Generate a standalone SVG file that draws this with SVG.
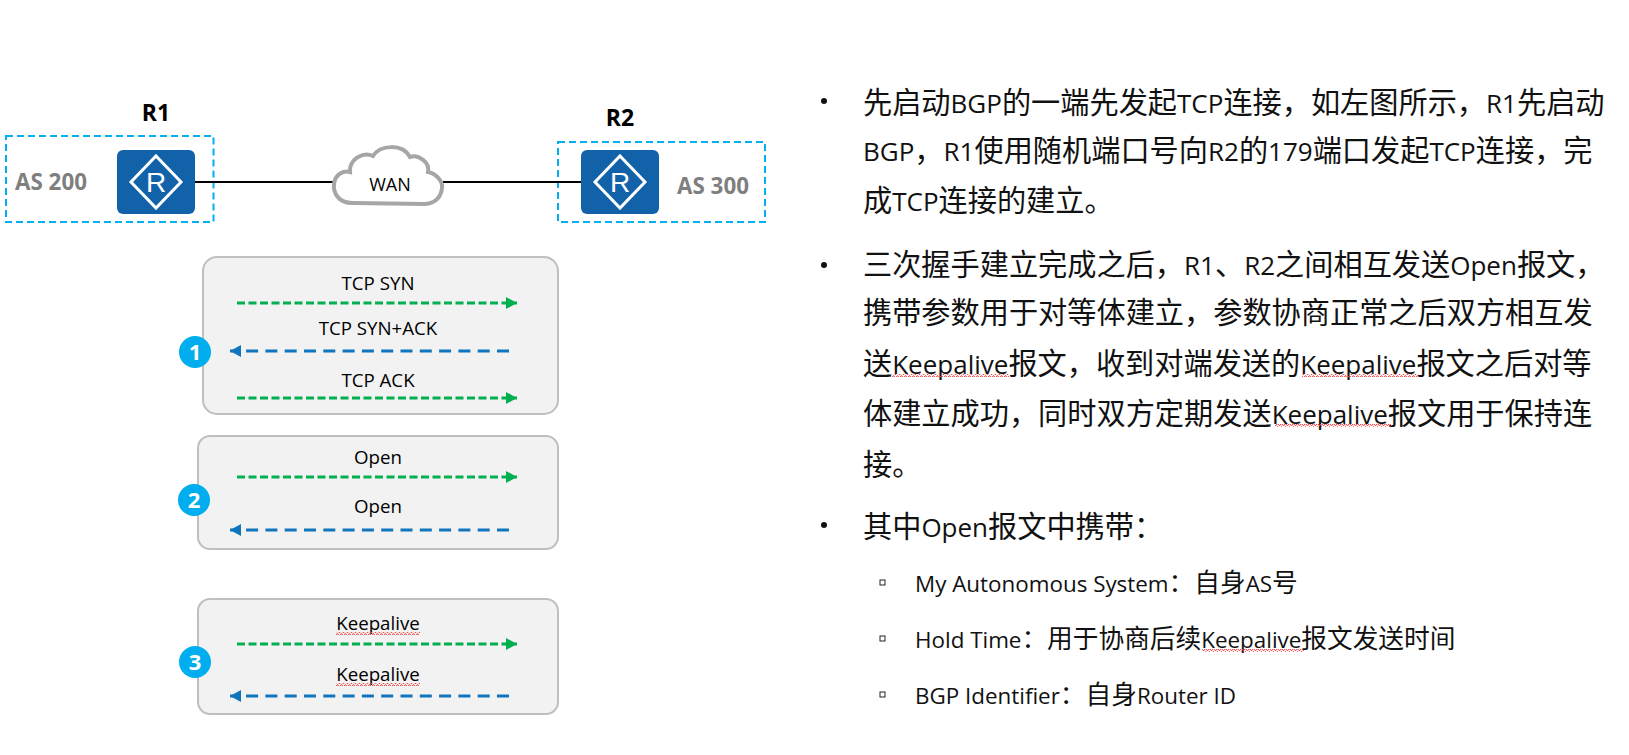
<svg xmlns="http://www.w3.org/2000/svg" xmlns:xlink="http://www.w3.org/1999/xlink" width="1629" height="755" viewBox="0 0 1629 755">
<style>
text{font-family:"Open Sans","Noto Sans CJK SC",sans-serif;fill:#000}
.body{font-size:29.2px;fill:#111}
.body .l{font-size:26px}
.sub{font-size:25.7px;fill:#111}
.sub .l{font-size:22.4px}
.msg{font-size:18.7px;text-anchor:middle}
.name{font-size:23px;font-weight:700;text-anchor:middle}
.as{font-size:22.4px;font-weight:700;fill:#7f7f7f}
.num{font-size:22px;font-weight:700;fill:#fff;text-anchor:middle}
.panel{fill:#f2f2f2;stroke:#bfbfbf;stroke-width:2}
.dash{fill:none;stroke:#00b0f0;stroke-width:2;stroke-dasharray:7 4}
.link{stroke:#000;stroke-width:2;fill:none}
.g{stroke:#00b050;stroke-width:2.8;stroke-dasharray:8 3.5;fill:none}
.b{stroke:#0f75bc;stroke-width:2.8;stroke-dasharray:12 7.3;fill:none}
.bullet{fill:none;stroke:#222;stroke-width:1}
.wavy{fill:url(#wave)}
</style>
<defs>
<pattern id="wave" width="4" height="3" patternUnits="userSpaceOnUse"><path d="M0 2.5L1 .8L2 .8L3 2.5L4 2.5" fill="none" stroke="#f04a4a" stroke-width="1"/></pattern>
<marker id="ag" markerUnits="userSpaceOnUse" markerWidth="12" markerHeight="12" refX="11" refY="6" orient="auto"><path d="M0 0L11 6L0 12z" fill="#00b050"/></marker>
<marker id="ab" markerUnits="userSpaceOnUse" markerWidth="12" markerHeight="12" refX="11" refY="6" orient="auto"><path d="M0 0L11 6L0 12z" fill="#0f75bc"/></marker>
<g id="router"><rect width="78" height="64" rx="6" fill="#1262aa"/><path d="M39 6L64 32L39 58L14 32z" fill="none" stroke="#fff" stroke-width="3"/><text x="39" y="42" text-anchor="middle" style="font-family:'Liberation Sans',sans-serif;font-size:28px;fill:#fff">R</text></g>
</defs>
<rect width="1629" height="755" fill="#fff"/>
<g id="as200"><rect class="dash" x="6" y="136" width="207.500" height="86"/><text class="as" x="15" y="190">AS 200</text></g>
<g id="as300"><rect class="dash" x="558" y="142" width="207" height="80"/><text class="as" x="677" y="194">AS 300</text></g>
<g id="step1"><rect class="panel" x="203" y="257" width="355" height="157" rx="14"/><text class="msg" x="378" y="290">TCP SYN</text><text class="msg" x="378" y="335">TCP SYN+ACK</text><text class="msg" x="378" y="387">TCP ACK</text><circle cx="195" cy="352" r="16" fill="#00aeef"/><text class="num" x="195" y="360">1</text></g>
<g id="step2"><rect class="panel" x="198" y="436" width="360" height="113" rx="12"/><text class="msg" x="378" y="464">Open</text><text class="msg" x="378" y="513">Open</text><circle cx="194" cy="500" r="16" fill="#00aeef"/><text class="num" x="194" y="508">2</text></g>
<g id="step3"><rect class="panel" x="198" y="599" width="360" height="115" rx="12"/><text class="msg" x="378" y="630">Keepalive</text><rect class="wavy" x="336" y="632" width="84" height="3"/><text class="msg" x="378" y="681">Keepalive</text><rect class="wavy" x="336" y="683" width="84" height="3"/><circle cx="195" cy="662" r="16" fill="#00aeef"/><text class="num" x="195" y="670">3</text></g>
<g id="connectors">
<path class="link" d="M195 182H334M443 182H581"/>
<path class="g" marker-end="url(#ag)" d="M237 303H517"/>
<path class="b" marker-end="url(#ab)" d="M509 351H230"/>
<path class="g" marker-end="url(#ag)" d="M237 398H517"/>
<path class="g" marker-end="url(#ag)" d="M237 477H517"/>
<path class="b" marker-end="url(#ab)" d="M509 530H230"/>
<path class="g" marker-end="url(#ag)" d="M237 644H517"/>
<path class="b" marker-end="url(#ab)" d="M509 696H230"/>
</g>
<g id="r1"><text class="name" x="156" y="121">R1</text><use xlink:href="#router" href="#router" x="117" y="150"/></g>
<g id="r2"><text class="name" x="620" y="126">R2</text><use xlink:href="#router" href="#router" x="581" y="150"/></g>
<g id="wan"><path d="M354 203C338 204 333 192 334 184C335 174 344 170 350 172C349 160 362 151 373 156C380 145 402 143 410 157C418 154 430 162 428 172C437 174 443 182 442 188C441 198 434 204 424 204Z" fill="#fff" stroke="#a6a6a6" stroke-width="4"/><text x="390" y="191" text-anchor="middle" style="font-size:18px">WAN</text></g>
<g id="notes">
<circle cx="824" cy="101" r="3" fill="#111"/>
<text class="body" x="863" y="113">先启动<tspan class="l">BGP</tspan>的一端先发起<tspan class="l">TCP</tspan>连接&#xFF0C;如左图所示&#xFF0C;<tspan class="l">R1</tspan>先启动</text>
<text class="body" x="863" y="161"><tspan class="l">BGP</tspan>&#xFF0C;<tspan class="l">R1</tspan>使用随机端口号向<tspan class="l">R2</tspan>的<tspan class="l">179</tspan>端口发起<tspan class="l">TCP</tspan>连接&#xFF0C;完</text>
<text class="body" x="863" y="211">成<tspan class="l">TCP</tspan>连接的建立。</text>
<circle cx="824" cy="265" r="3" fill="#111"/>
<text class="body" x="863" y="275">三次握手建立完成之后&#xFF0C;<tspan class="l">R1</tspan>、<tspan class="l">R2</tspan>之间相互发送<tspan class="l">Open</tspan>报文&#xFF0C;</text>
<text class="body" x="863" y="323">携带参数用于对等体建立&#xFF0C;参数协商正常之后双方相互发</text>
<text class="body" x="863" y="374">送<tspan class="l">Keepalive</tspan>报文&#xFF0C;收到对端发送的<tspan class="l">Keepalive</tspan>报文之后对等</text>
<rect class="wavy" x="892" y="374" width="117" height="3"/><rect class="wavy" x="1302" y="374" width="117" height="3"/>
<text class="body" x="863" y="424">体建立成功&#xFF0C;同时双方定期发送<tspan class="l">Keepalive</tspan>报文用于保持连</text>
<rect class="wavy" x="1275" y="424" width="117" height="3"/>
<text class="body" x="863" y="475">接。</text>
<circle cx="824" cy="525" r="3" fill="#111"/>
<text class="body" x="863" y="537">其中<tspan class="l">Open</tspan>报文中携带&#xFF1A;</text>
<rect class="bullet" x="880" y="580" width="5" height="5"/>
<text class="sub" x="915" y="592"><tspan class="l">My Autonomous System</tspan>&#xFF1A;自身<tspan class="l">AS</tspan>号</text>
<rect class="bullet" x="880" y="636" width="5" height="5"/>
<text class="sub" x="915" y="648"><tspan class="l">Hold Time</tspan>&#xFF1A;用于协商后续<tspan class="l">Keepalive</tspan>报文发送时间</text>
<rect class="wavy" x="1202" y="649" width="102" height="3"/>
<rect class="bullet" x="880" y="692" width="5" height="5"/>
<text class="sub" x="915" y="704"><tspan class="l">BGP Identifier</tspan>&#xFF1A;自身<tspan class="l">Router ID</tspan></text>
</g>
</svg>
